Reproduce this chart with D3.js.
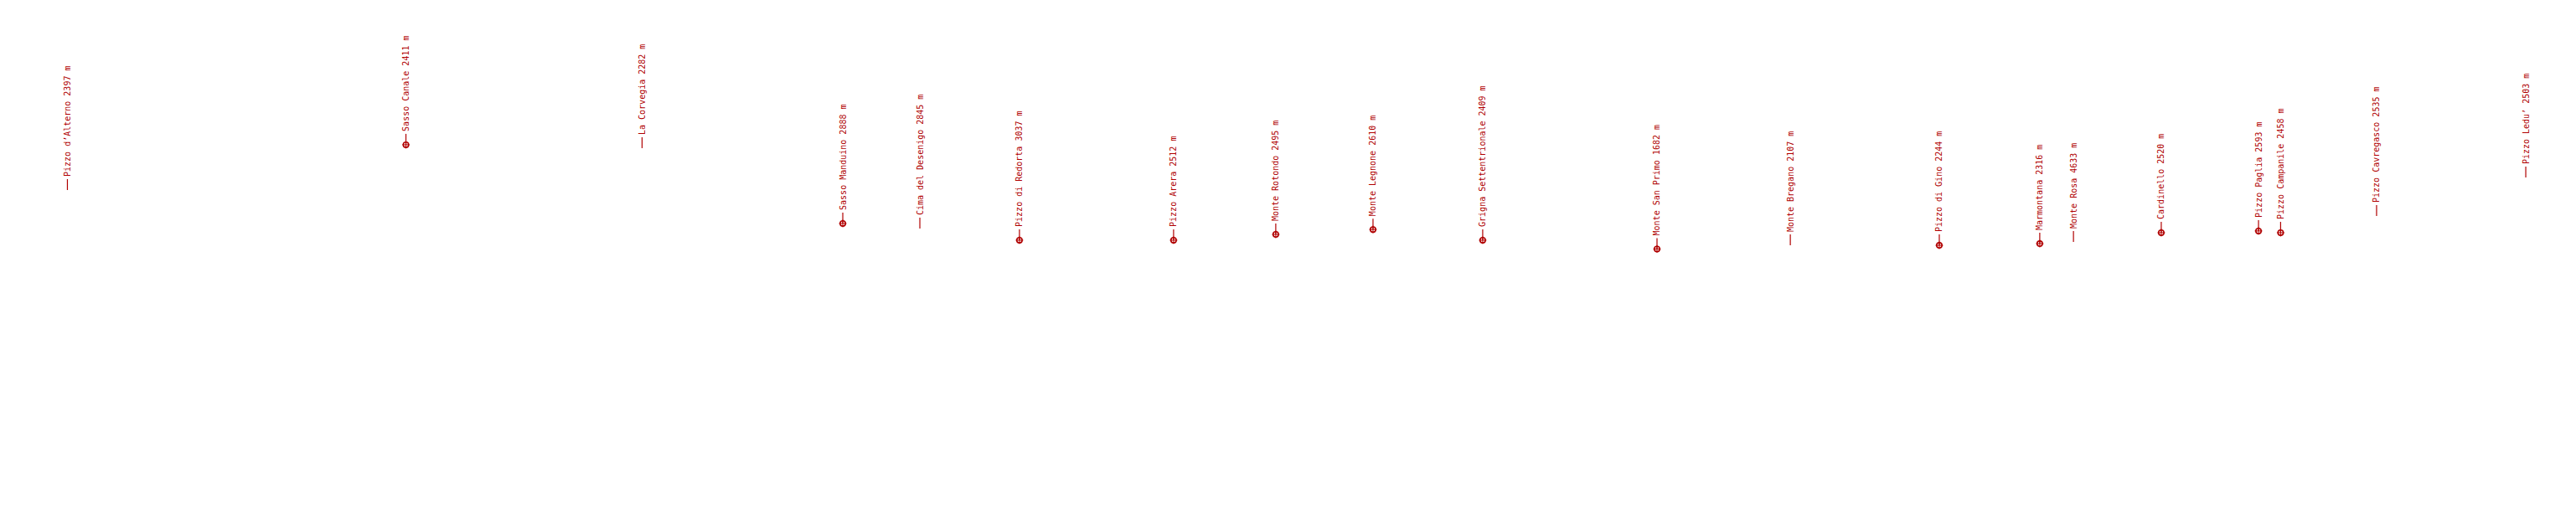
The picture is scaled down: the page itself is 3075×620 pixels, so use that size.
<!DOCTYPE html>
<html>
<head>
<meta charset="utf-8">
<script src="https://cdn.jsdelivr.net/npm/d3@7"></script>
<style>
  html, body { margin: 0; padding: 0; background: #ffffff; }
  svg { display: block; }
  text { font-family: "DejaVu Sans Mono", "Liberation Mono", monospace; font-size: 10px; }
</style>
</head>
<body>
<svg id="chart"></svg>
<script>
// Peak names
const peakNames = [
  "Pizzo d\u2019Alterno", "Sasso Canale", "La Corvegia", "Sasso Manduino",
  "Cima del Desenigo", "Pizzo di Redorta", "Pizzo Arera", "Monte Rotondo",
  "Monte Legnone", "Grigna Settentrionale", "Monte San Primo", "Monte Bregano",
  "Pizzo di Gino", "Marmontana", "Monte Rosa", "Cardinello",
  "Pizzo Paglia", "Pizzo Campanile", "Pizzo Cavregasco", "Pizzo Ledu\u2019"
];
// Elevations (m)
const elevations = [
  2397, 2411, 2282, 2888,
  2845, 3037, 2512, 2495,
  2610, 2409, 1682, 2107,
  2244, 2316, 4633, 2520,
  2593, 2458, 2535, 2503
];
// Horizontal bearing in the panorama (degrees, relative to view centre)
const bearings = [
  -56.86, -41.09, -30.09, -20.74,
  -17.15, -12.51, -5.33, -0.57,
  3.96, 9.07, 17.19, 23.40,
  30.34, 35.02, 36.59, 40.68,
  45.21, 46.24, 50.71, 57.66
];
// Apparent vertical angle (degrees)
const vAngles = [
  3.24, 5.35, 5.19, 1.68,
  1.44, 0.90, 0.90, 1.17,
  1.40, 0.90, 0.49, 0.66,
  0.66, 0.74, 0.82, 1.25,
  1.33, 1.25, 2.03, 3.82
];
// Whether the summit is visible (marked with a reticle)
const visible = [
  false, true, false, true,
  false, true, true, true,
  true, true, true, false,
  true, true, false, true,
  true, true, false, false
];

const W = 3075, H = 620;
const color = "#b00000";

const svg = d3.select("#chart").attr("width", W).attr("height", H);

const pxPerDeg = W / 120;
const x = d3.scaleLinear().domain([-60, 60]).range([0, W]);
const y = d3.scaleLinear().domain([-H / 2 / pxPerDeg, H / 2 / pxPerDeg]).range([H, 0]);

const peaks = peakNames.map((n, i) => ({
  name: n, ele: elevations[i], b: bearings[i], v: vAngles[i], vis: visible[i]
}));

const g = svg.append("g");
const pk = g.selectAll("g.peak").data(peaks).join("g")
  .attr("class", "peak")
  .attr("transform", d => `translate(${x(d.b)},${y(d.v)})`);

pk.append("line")
  .attr("x1", 0).attr("x2", 0)
  .attr("y1", 0).attr("y2", -13)
  .attr("stroke", color).attr("stroke-width", 1.2);

pk.append("text")
  .attr("transform", "translate(3.5,-16) rotate(-90)")
  .attr("fill", color)
  .attr("text-anchor", "start")
  .text(d => `${d.name} ${d.ele} m`);

const vis = pk.filter(d => d.vis);
vis.append("circle")
  .attr("r", 3.2)
  .attr("fill", "none")
  .attr("stroke", color)
  .attr("stroke-width", 1.6);
vis.append("line")
  .attr("x1", -4.5).attr("x2", 4.5).attr("y1", 0).attr("y2", 0)
  .attr("stroke", color).attr("stroke-width", 1);
vis.append("line")
  .attr("x1", 0).attr("x2", 0).attr("y1", -4.5).attr("y2", 4.5)
  .attr("stroke", color).attr("stroke-width", 1);
</script>
</body>
</html>
